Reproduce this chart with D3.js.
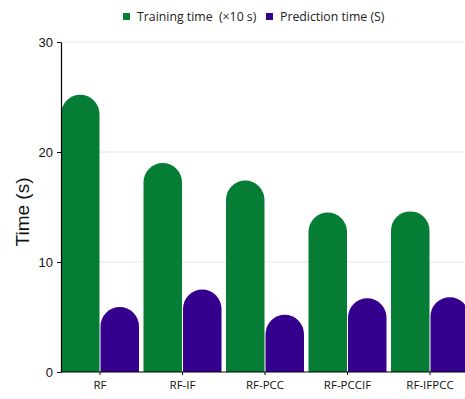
<!DOCTYPE html>
<html>
<head>
<meta charset="utf-8">
<script src="https://cdn.jsdelivr.net/npm/d3@7"></script>
<style>
html,body{margin:0;padding:0;background:#fff;}
svg{display:block;}
</style>
</head>
<body>
<svg id="chart" width="465" height="399"></svg>
<script>
const categories = ["RF", "RF-IF", "RF-PCC", "RF-PCCIF", "RF-IFPCC"];
const trainingTime = [25.2, 19.0, 17.4, 14.5, 14.6];
const predictionTime = [5.9, 7.5, 5.2, 6.7, 6.8];
const seriesNames = ["Training time\u00a0\u00a0(\u00d710\u00a0s)", "Prediction time\u00a0(S)"];
const seriesColors = ["#067d35", "#36008f"];
const yTicks = [0, 10, 20, 30];

const svg = d3.select("#chart");
const yAxisX = 61;
const x = d3.scaleBand().domain(categories).range([58.75, 471.25]).padding(0);
const keys = ["train", "pred"];
const xs = d3.scaleBand().domain(keys).range([0, x.bandwidth()]).paddingInner(0.0253).paddingOuter(0.057);
const y = d3.scaleLinear().domain([0, 30]).range([372, 42]);

// gridlines
svg.append("g").selectAll("line").data(yTicks.filter(d => d > 0)).join("line")
  .attr("x1", yAxisX).attr("x2", 465)
  .attr("y1", d => y(d)).attr("y2", d => y(d))
  .attr("stroke", "#e4e4e4").attr("stroke-width", 1);

const data = categories.map((c, i) => ({cat: c, train: trainingTime[i], pred: predictionTime[i]}));

function roundTop(x0, w, top, bottom) {
  const r = w / 2;
  const p = d3.path();
  p.moveTo(x0, bottom);
  p.lineTo(x0, top + r);
  p.arc(x0 + r, top + r, r, Math.PI, 0);
  p.lineTo(x0 + w, bottom);
  p.closePath();
  return p.toString();
}

const groups = svg.append("g").selectAll("g").data(data).join("g")
  .attr("transform", d => `translate(${x(d.cat)},0)`);
keys.forEach((k, ki) => {
  groups.append("path")
    .attr("d", d => roundTop(xs(k), xs.bandwidth(), y(d[k]), y(0)))
    .attr("fill", seriesColors[ki]);
});

// y axis
const yAxis = d3.axisLeft(y).tickValues(yTicks).tickSize(4).tickSizeOuter(0).tickPadding(4);
const yg = svg.append("g").attr("transform", `translate(${yAxisX},0)`).call(yAxis);
yg.select(".domain").attr("stroke", "#000").attr("stroke-width", 1.2);
yg.selectAll(".tick line").attr("stroke", "#000");
yg.selectAll("text").attr("font-family", "Liberation Sans, Arial, sans-serif").attr("font-size", 13).attr("fill", "#111");

// x axis
const xAxis = d3.axisBottom(x).tickSize(3).tickSizeOuter(0).tickPadding(6);
const xg = svg.append("g").attr("transform", `translate(0,${y(0)})`).call(xAxis);
xg.select(".domain").remove();
xg.append("line").attr("x1", yAxisX).attr("x2", 465).attr("y1", 0).attr("y2", 0).attr("stroke", "#000").attr("stroke-width", 1.2);
xg.selectAll(".tick line").attr("stroke", "#000");
xg.selectAll("text").attr("font-family", "Open Sans, sans-serif").attr("font-size", 11.5).attr("fill", "#111");

// y title
svg.append("text")
  .attr("transform", "translate(29,212) rotate(-90)")
  .attr("text-anchor", "middle")
  .attr("font-family", "Liberation Sans, Arial, sans-serif")
  .attr("font-size", 19).attr("fill", "#111")
  .text("Time (s)");

// legend
const legendX = [123, 266];
const lg = svg.append("g").selectAll("g").data(seriesNames).join("g")
  .attr("transform", (d, i) => `translate(${legendX[i]},0)`);
lg.append("rect").attr("x", 0).attr("y", 13).attr("width", 7).attr("height", 7)
  .attr("fill", (d, i) => seriesColors[i]);
lg.append("text").attr("x", 14).attr("y", 21)
  .attr("font-family", "Open Sans, sans-serif").attr("font-size", 12.3).attr("fill", "#222")
  .text(d => d);
</script>
</body>
</html>
